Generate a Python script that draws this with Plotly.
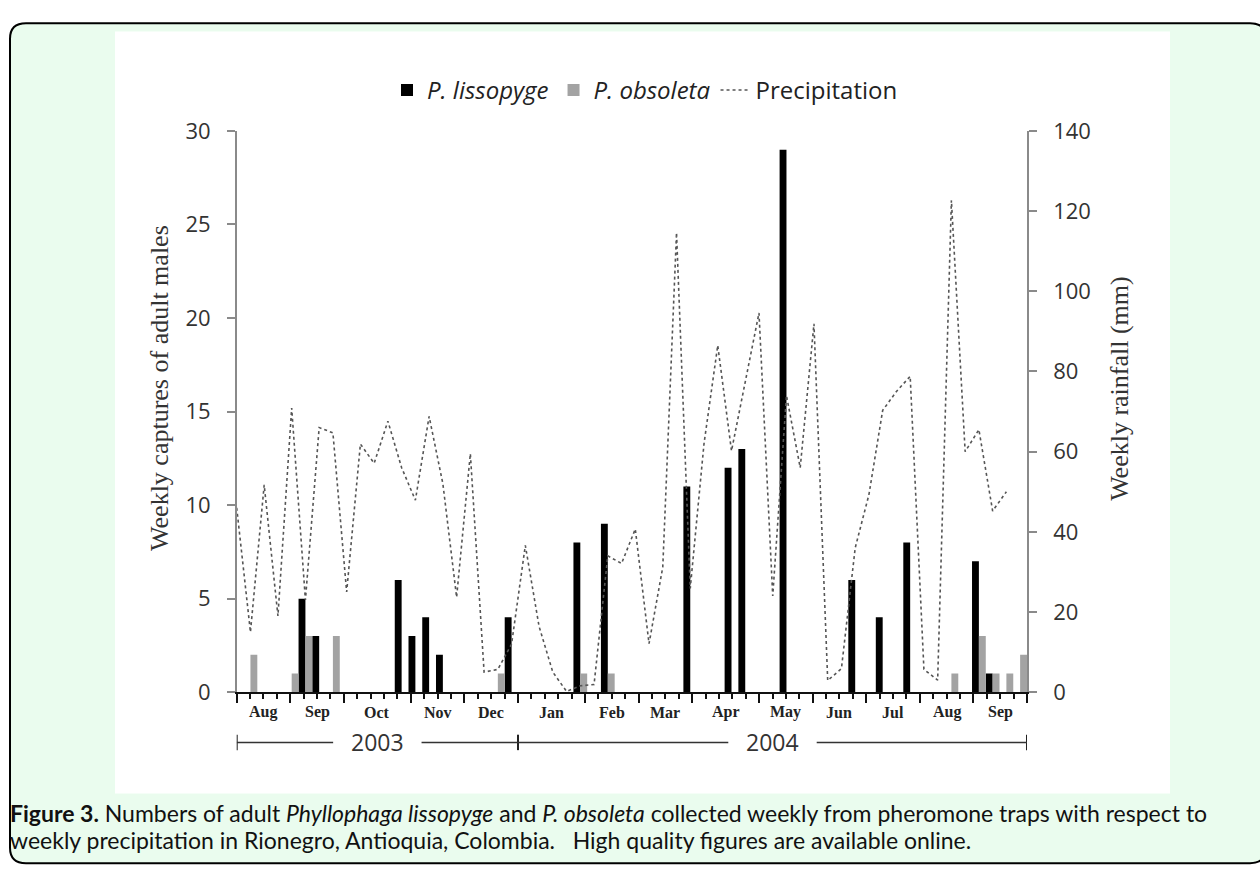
import plotly.graph_objects as go

# ------------------------------------------------------------------ data
months = ["Aug", "Sep", "Oct", "Nov", "Dec", "Jan", "Feb", "Mar", "Apr",
          "May", "Jun", "Jul", "Aug", "Sep"]
weeks_per_month = [4, 4, 5, 4, 4, 5, 4, 4, 5, 4, 4, 4, 4, 4]
years = ["2003", "2004"]
weeks_per_year = [21, 38]

# weekly captures (x = sampling-week index)
lissopyge_week = [4, 5, 11, 12, 13, 14, 19, 24, 26, 32, 35, 36, 39, 44, 46, 48, 53, 54]
lissopyge = [5, 3, 6, 3, 4, 2, 4, 8, 9, 11, 12, 13, 29, 6, 4, 8, 7, 1]
obsoleta_week = [0, 3, 4, 6, 18, 24, 26, 51, 53, 54, 55, 56]
obsoleta = [2, 1, 3, 3, 1, 1, 1, 1, 3, 1, 1, 2]

# weekly rainfall (mm)
rain_week = list(range(-1, 56))
rain = [46, 15, 51.7, 19, 70.9, 23, 66, 64.7, 25, 61.9, 57.1, 67.6, 56, 47.9,
        68.8, 52, 23.7, 59.5, 5, 5.7, 12, 36.6, 16.4, 5, 0.2, 1.6, 1.9, 34,
        32.1, 40.7, 12.1, 31.2, 114.6, 25.9, 62, 86.5, 60.2, 77, 94.6, 24, 74,
        56, 91.9, 2.9, 5.9, 36, 49.3, 70.3, 75, 78.8, 5.7, 3, 122.7, 60, 65.5,
        45.2, 50]

# ------------------------------------------------------------------ layout helpers
W, H = 1260, 882


def px(v):
    return v / W


def py(v):
    return 1 - v / H


# month tick positions derived from the month lengths
bounds = [0]
for n in weeks_per_month:
    bounds.append(bounds[-1] + n)
centers = [(bounds[i] + bounds[i + 1]) / 2 for i in range(len(months))]
ybounds = [0]
for n in weeks_per_year:
    ybounds.append(ybounds[-1] + n)
total_weeks = bounds[-1]

fig = go.Figure()
fig.add_trace(go.Bar(x=lissopyge_week, y=lissopyge, name="<i>P. lissopyge</i>",
                     marker=dict(color="#000000", line=dict(width=0)),
                     width=0.5, offset=-0.5))
fig.add_trace(go.Bar(x=obsoleta_week, y=obsoleta, name="<i>P. obsoleta</i>",
                     marker=dict(color="#a3a3a3", line=dict(width=0)),
                     width=0.5, offset=0))
fig.add_trace(go.Scatter(x=rain_week, y=rain, name="Precipitation", yaxis="y2",
                         mode="lines", line=dict(color="#555555", width=1.6, dash="dot")))

xdom = [px(236.7), px(1027)]
ydom = [py(700), py(119)]
num_font = dict(family="Open Sans", size=22, color="#333333")

shapes = []
# green framed box with rounded corners
x0, x1, y0, y1, r = 10, 1266, 7.5, 877, 16
path = (f"M {px(x0)},{py(y0 + r)} Q {px(x0)},{py(y0)} {px(x0 + r)},{py(y0)} "
        f"L {px(x1 - r)},{py(y0)} Q {px(x1)},{py(y0)} {px(x1)},{py(y0 + r)} "
        f"L {px(x1)},{py(y1 - r)} Q {px(x1)},{py(y1)} {px(x1 - r)},{py(y1)} "
        f"L {px(x0 + r)},{py(y1)} Q {px(x0)},{py(y1)} {px(x0)},{py(y1 - r)} Z")
shapes.append(dict(type="path", xref="paper", yref="paper", path=path,
                   fillcolor="#eafcee", line=dict(color="#000000", width=2), layer="below"))
shapes.append(dict(type="rect", xref="paper", yref="paper", x0=px(115), x1=px(1170),
                   y0=py(805), y1=py(16), fillcolor="#ffffff", line=dict(width=0), layer="below"))

annotations = []
# month labels
for c, m in zip(centers, months):
    annotations.append(dict(text=m, xref="x2", yref="paper", x=c, y=py(721),
                            showarrow=False, xanchor="center", yanchor="middle",
                            font=dict(family="Liberation Serif", size=16, color="#222222",
                                      weight="bold")))

# year bracket
gap = 3.3
for b in ybounds:
    shapes.append(dict(type="line", xref="x2", yref="paper", x0=b, x1=b,
                       y0=py(760), y1=py(744), line=dict(color="#222222", width=2)))
for i, yr in enumerate(years):
    c = (ybounds[i] + ybounds[i + 1]) / 2
    for a, b in [(ybounds[i], c - gap), (c + gap, ybounds[i + 1])]:
        shapes.append(dict(type="line", xref="x2", yref="paper", x0=a, x1=b,
                           y0=py(752), y1=py(752), line=dict(color="#333333", width=1.5)))
    annotations.append(dict(text=yr, xref="x2", yref="paper", x=c, y=py(752),
                            showarrow=False, xanchor="center", yanchor="middle",
                            font=dict(family="Open Sans", size=23, color="#333333")))

# axis titles
annotations.append(dict(text="Weekly captures of adult males", xref="paper", yref="paper",
                        x=px(160), y=py(385), textangle=-90, showarrow=False,
                        xanchor="center", yanchor="middle",
                        font=dict(family="Liberation Serif", size=26, color="#333333")))
annotations.append(dict(text="Weekly rainfall (mm)", xref="paper", yref="paper",
                        x=px(1120), y=py(386), textangle=-90, showarrow=False,
                        xanchor="center", yanchor="middle",
                        font=dict(family="Liberation Serif", size=26, color="#333333")))

# caption
cap_font = dict(family="Lato", size=23, color="#111111")
annotations.append(dict(
    text="<b>Figure 3.</b> Numbers of adult <i>Phyllophaga lissopyge</i> and <i>P. obsoleta</i> "
         "collected weekly from pheromone traps with respect to",
    xref="paper", yref="paper", x=px(8), y=py(825), xanchor="left", yanchor="middle",
    showarrow=False, font=cap_font))
annotations.append(dict(
    text="weekly precipitation in Rionegro, Antioquia, Colombia.&nbsp;&nbsp; "
         "High quality figures are available online.",
    xref="paper", yref="paper", x=px(8), y=py(853), xanchor="left", yanchor="middle",
    showarrow=False, font=cap_font))

fig.update_layout(
    width=W, height=H, margin=dict(l=0, r=0, t=0, b=0),
    paper_bgcolor="#ffffff", plot_bgcolor="rgba(0,0,0,0)",
    barmode="overlay",
    shapes=shapes, annotations=annotations,
    showlegend=True,
    legend=dict(orientation="h", x=px(645), y=py(77), xanchor="center", yanchor="middle",
                font=dict(family="Open Sans", size=24, color="#222222"),
                bgcolor="rgba(0,0,0,0)", itemwidth=30, traceorder="normal"),
    xaxis=dict(domain=xdom, range=[-1, 56.5], showline=False, showticklabels=False,
               ticks="", showgrid=False, zeroline=False, anchor="y", fixedrange=True),
    xaxis2=dict(domain=xdom, range=[0, total_weeks], overlaying="x", anchor="y",
                side="bottom", tickmode="array", tickvals=bounds, ticks="outside",
                ticklen=9, tickwidth=2, tickcolor="#111111", showticklabels=False,
                showline=True, linecolor="#111111", linewidth=2, showgrid=False,
                zeroline=False,
                minor=dict(dtick=1, tick0=0, ticks="outside", ticklen=5, tickwidth=1.5,
                           tickcolor="#111111", showgrid=False)),
    yaxis=dict(domain=ydom, range=[0, 30], dtick=5, tick0=0, ticks="outside", ticklen=8,
               tickwidth=1.5, tickcolor="#8a8a8a", showline=True, linecolor="#8a8a8a",
               linewidth=1.5, showgrid=False, zeroline=False, tickfont=num_font,
               ticklabelstandoff=12, anchor="x"),
    yaxis2=dict(domain=ydom, range=[0, 140], dtick=20, tick0=0, overlaying="y",
                side="right", anchor="x", ticks="outside", ticklen=8, tickwidth=1.5,
                tickcolor="#8a8a8a", showline=True, linecolor="#8a8a8a", linewidth=1.5,
                showgrid=False, zeroline=False, tickfont=num_font, ticklabelstandoff=12),
)

fig.write_html("out.html", config={"displayModeBar": False},
               post_script="document.body.style.margin='0';document.body.style.overflow='hidden';")
